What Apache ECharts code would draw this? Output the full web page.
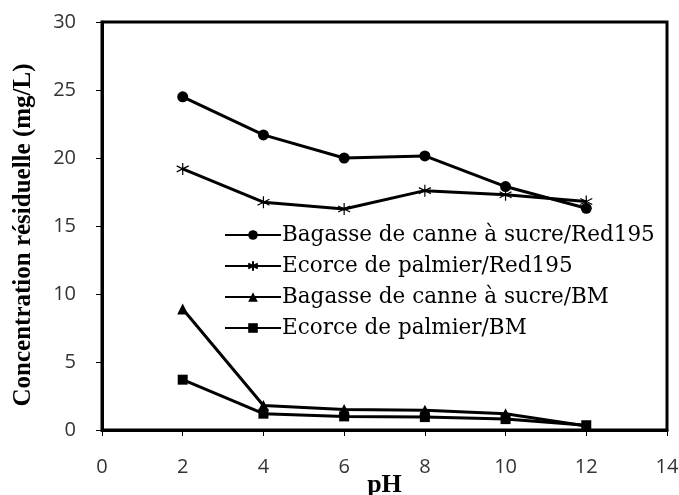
<!DOCTYPE html>
<html><head><meta charset="utf-8">
<script src="https://cdn.jsdelivr.net/npm/echarts@6/dist/echarts.min.js"></script>
<style>html,body{margin:0;padding:0;background:#fff}#c{width:679px;height:495px}</style>
</head><body><div id="c"></div>
<script>
const pH = [2, 4, 6, 8, 10, 12];
const names = ['Bagasse de canne à sucre/Red195', 'Ecorce de palmier/Red195', 'Bagasse de canne à sucre/BM', 'Ecorce de palmier/BM'];
const bagasseRed = [24.5, 21.7, 20.0, 20.15, 17.9, 16.3];
const palmierRed = [19.2, 16.75, 16.25, 17.6, 17.3, 16.8];
const bagasseBM = [8.9, 1.8, 1.5, 1.45, 1.2, 0.3];
const palmierBM = [3.7, 1.2, 1.0, 0.95, 0.8, 0.35];
const xTicks = [0, 2, 4, 6, 8, 10, 12, 14];
const yTicks = [0, 5, 10, 15, 20, 25, 30];

const asterisk = 'path://M0,-10L0,10M-8.7,-5L8.7,5M-8.7,5L8.7,-5';
function pairs(v){ return pH.map((x,i)=>[x, v[i]]); }
function mk(name, data, symbol, size, hollow){
  return {
    name, type:'line', data:pairs(data), symbol, symbolSize:size,
    lineStyle:{color:'#000', width:3},
    itemStyle: hollow ? {color:'transparent', borderColor:'#000', borderWidth:1.2} : {color:'#000'},
    z: 3
  };
}
const chart = echarts.init(document.getElementById('c'), null, {renderer:'canvas'});
chart.setOption({
  animation:false,
  backgroundColor:'#fff',
  grid:{left:102, right:12, top:22, bottom:65, containLabel:false, outerBoundsMode:'none', show:true, borderColor:'#000', borderWidth:3, backgroundColor:'transparent'},
  legend:{
    orient:'vertical', left:219, top:219, itemGap:9, itemWidth:56, itemHeight:12,
    textStyle:{fontFamily:'DejaVu Serif', fontSize:21.5, color:'#000', padding:[0,0,0,-4]},
    data:names
  },
  xAxis:{
    type:'value', min:xTicks[0], max:xTicks[xTicks.length-1], interval:2,
    name:'pH', nameLocation:'middle', nameGap:42, nameMoveOverlap:false,
    nameTextStyle:{fontFamily:'Liberation Serif', fontWeight:'bold', fontSize:26, color:'#000'},
    axisLine:{show:true, lineStyle:{color:'#000', width:3}},
    axisTick:{show:true, inside:false, length:6, lineStyle:{color:'#000', width:1}},
    axisLabel:{fontFamily:'Open Sans', fontSize:20, color:'#333', margin:27},
    splitLine:{show:false}
  },
  yAxis:{
    type:'value', min:yTicks[0], max:yTicks[yTicks.length-1], interval:5,
    name:'Concentration résiduelle (mg/L)', nameLocation:'middle', nameGap:66, nameMoveOverlap:false,
    nameTextStyle:{fontFamily:'Liberation Serif', fontWeight:'bold', fontSize:25, color:'#000', padding:[0,18,0,0]},
    axisLine:{show:true, lineStyle:{color:'#000', width:3}},
    axisTick:{show:true, inside:false, length:6, lineStyle:{color:'#000', width:1}},
    axisLabel:{fontFamily:'Open Sans', fontSize:20, color:'#333', margin:26},
    splitLine:{show:false}
  },
  series:[
    mk(names[0], bagasseRed, 'circle', 11, false),
    mk(names[1], palmierRed, asterisk, 12, true),
    mk(names[2], bagasseBM, 'triangle', 11, false),
    mk(names[3], palmierBM, 'rect', 10, false)
  ]
});
</script></body></html>
